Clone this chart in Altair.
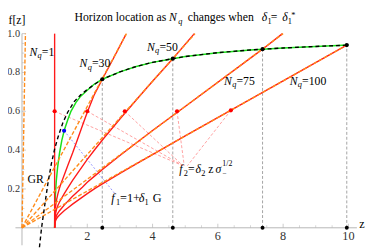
import altair as alt
import pandas as pd

# ---------------- data ----------------
GR_Z = [0.535, 0.6, 0.7, 0.8, 0.9, 1.0, 1.1, 1.25, 1.4, 1.6, 1.8, 2.0, 2.25, 2.46,
        3.0, 3.5, 4.0, 4.62, 5.0, 6.0, 7.0, 8.0, 9.0, 10.0]
GR_F = [-0.10, 0.0, 0.12, 0.235, 0.33, 0.405, 0.465, 0.54, 0.595, 0.65, 0.685, 0.712, 0.742, 0.765,
        0.803, 0.831, 0.852, 0.871, 0.882, 0.902, 0.916, 0.926, 0.934, 0.941]

F1_Z = [1.0, 1.005, 1.02, 1.05, 1.09, 1.15, 1.22, 1.3, 1.4, 1.5, 1.65, 1.8, 2.0, 2.2, 2.46,
        3.0, 3.5, 4.0, 4.62, 5.0, 6.0, 7.0, 8.0, 9.0, 10.0]
F1_F = [0.0, 0.08, 0.16, 0.24, 0.31, 0.385, 0.45, 0.505, 0.555, 0.6, 0.645, 0.678, 0.708, 0.738, 0.765,
        0.803, 0.831, 0.852, 0.871, 0.882, 0.902, 0.916, 0.926, 0.934, 0.941]

RED1_Z = [1.0, 1.0]
RED1_F = [0.0, 1.0]
RED30_Z = [1.0, 1.01, 1.03, 1.06, 1.1, 1.15, 1.2, 1.3, 1.4, 1.55, 1.7, 1.85, 2.0, 2.2, 2.46, 2.8, 3.18]
RED30_F = [0.0, 0.07, 0.11, 0.145, 0.175, 0.205, 0.23, 0.275, 0.32, 0.385, 0.455, 0.525, 0.595, 0.68, 0.765, 0.872, 0.995]
RED50_Z = [1.0, 1.01, 1.03, 1.06, 1.1, 1.15, 1.2, 1.3, 1.4, 1.55, 1.7, 1.85, 2.0, 2.25, 2.5, 3.0, 3.5, 4.0, 4.62, 5.28]
RED50_F = [0.0, 0.048, 0.074, 0.096, 0.115, 0.133, 0.148, 0.177, 0.204, 0.244, 0.28, 0.316, 0.352, 0.407, 0.46, 0.56, 0.658, 0.755, 0.871, 1.0]
RED75_Z = [1.0, 1.01, 1.03, 1.06, 1.1, 1.15, 1.2, 1.3, 1.4, 1.55, 1.7, 1.85, 2.0, 2.25, 2.5, 3.0, 3.5, 4.0, 5.0, 7.37, 7.98]
RED75_F = [0.0, 0.032, 0.049, 0.064, 0.076, 0.088, 0.098, 0.118, 0.136, 0.162, 0.186, 0.209, 0.234, 0.27, 0.305, 0.372, 0.437, 0.501, 0.625, 0.92, 1.0]
RED100_Z = [1.0, 1.01, 1.03, 1.06, 1.1, 1.15, 1.2, 1.3, 1.4, 1.55, 1.7, 1.85, 2.0, 2.25, 2.5, 3.0, 3.5, 4.0, 5.0, 9.95]
RED100_F = [0.0, 0.024, 0.037, 0.048, 0.057, 0.066, 0.074, 0.089, 0.102, 0.122, 0.14, 0.158, 0.176, 0.204, 0.23, 0.28, 0.329, 0.377, 0.4735, 0.941]

# orange dashed asymptotes (from the origin)
ORANGE_END_Z = [0.106, 3.2, 5.3, 8.0, 9.95]
ORANGE_END_F = [1.0, 1.0, 1.0, 1.0, 0.941]

# horizon points
DOT_Z = [2.46, 4.62, 7.37, 9.95]
DOT_F = [0.765, 0.871, 0.92, 0.941]

# red marker dots and their callout ends
RED_DOT_Z = [1.0, 2.0, 3.15, 4.75, 6.4]
RED_DOT_F = [0.6, 0.6, 0.6, 0.6, 0.605]
PTR_END_Z = [4.93, 4.93, 4.93, 4.97, 5.07]
PTR_END_F = [0.32, 0.32, 0.32, 0.32, 0.32]

BLUE_DOT_Z = [1.29]
BLUE_DOT_F = [0.50]
BLUE_END_Z = [2.85]
BLUE_END_F = [0.175]

# axes / ticks
X_AXIS_Z = [-0.2, 10.26]
Y_AXIS_F = [-0.09, 1.0]
X_TICKS = [2, 4, 6, 8, 10]
X_TICK_LABELS = ["2", "4", "6", "8", "10"]
Y_TICKS = [0.2, 0.4, 0.6, 0.8, 1.0]
Y_TICK_LABELS = ["0.2", "0.4", "0.6", "0.8", "1.0"]
X_MINOR = [0.5, 1.0, 1.5, 2.5, 3.0, 3.5, 4.5, 5.0, 5.5, 6.5, 7.0, 7.5, 8.5, 9.0, 9.5]
Y_MINOR = [0.05, 0.1, 0.15, 0.25, 0.3, 0.35, 0.45, 0.5, 0.55, 0.65, 0.7, 0.75, 0.85, 0.9, 0.95]

# label anchors
NQ_LABELS = ["=1", "=30", "=50", "=75", "=100"]
NQ_LABEL_Z = [0.227, 1.763, 3.83, 6.19, 8.2]
NQ_LABEL_F = [0.907, 0.846, 0.932, 0.756, 0.756]
GR_LABEL = ("GR", 0.17, 0.252)
F1_LABEL_AT = (2.736, 0.151)
F2_LABEL_AT = (4.82, 0.302)

# ---------------- styling ----------------
SERIF = "'Liberation Serif', 'Times New Roman', Times, serif"
XS = alt.Scale(domain=[-0.4285, 10.539], nice=False, zero=False)
YS = alt.Scale(domain=[-0.1008, 1.1184], nice=False, zero=False)
AXIS_GRAY = "#b5b5b5"
RED = "#ff1a1a"
ORANGE = "#ff8c1a"
GREEN = "#19e019"


def X(field):
    return alt.X(field, type="quantitative", scale=XS, axis=None)


def Y(field):
    return alt.Y(field, type="quantitative", scale=YS, axis=None)


def line_layer(zs, fs, **mark):
    df = pd.DataFrame({"z": zs, "f": fs, "o": list(range(len(zs)))})
    return alt.Chart(df).mark_line(**mark).encode(x=X("z"), y=Y("f"), order="o:Q")


def seg_layer(z0, f0, z1, f1, **mark):
    df = pd.DataFrame({"z0": z0, "f0": f0, "z1": z1, "f1": f1})
    return alt.Chart(df).mark_rule(**mark).encode(x=X("z0"), y=Y("f0"), x2="z1", y2="f1")


def pts_layer(zs, fs, **mark):
    df = pd.DataFrame({"z": zs, "f": fs})
    return alt.Chart(df).mark_circle(**mark).encode(x=X("z"), y=Y("f"))


def rich(z, f, pieces):
    out = []
    for text, dx, dy, fs, style in pieces:
        df = pd.DataFrame({"z": [z], "f": [f], "t": [text]})
        out.append(alt.Chart(df).mark_text(align="left", baseline="middle", dx=dx, dy=dy,
                                           font=SERIF, fontSize=fs, fontStyle=style,
                                           color="black")
                   .encode(x=X("z"), y=Y("f"), text="t:N"))
    return out


def px_text(text, x, y, size=12, style="normal"):
    df = pd.DataFrame({"t": [text]})
    return alt.Chart(df).mark_text(align="left", baseline="alphabetic", font=SERIF,
                                   fontSize=size, fontStyle=style, color="black").encode(
        x=alt.value(x), y=alt.value(y), text="t:N")


layers = []

# axes
layers.append(line_layer(X_AXIS_Z, [0, 0], color=AXIS_GRAY, strokeWidth=1))
layers.append(line_layer([0, 0], Y_AXIS_F, color=AXIS_GRAY, strokeWidth=1))
layers.append(alt.Chart(pd.DataFrame({"z": X_TICKS, "f": [0] * len(X_TICKS)}))
              .mark_tick(orient="vertical", size=4, thickness=1, yOffset=-2, color=AXIS_GRAY)
              .encode(x=X("z"), y=Y("f")))
layers.append(alt.Chart(pd.DataFrame({"z": X_MINOR, "f": [0] * len(X_MINOR)}))
              .mark_tick(orient="vertical", size=2.5, thickness=0.8, yOffset=-1.25, color=AXIS_GRAY)
              .encode(x=X("z"), y=Y("f")))
layers.append(alt.Chart(pd.DataFrame({"z": [0] * len(Y_TICKS), "f": Y_TICKS}))
              .mark_tick(orient="horizontal", size=4, thickness=1, xOffset=2, color=AXIS_GRAY)
              .encode(x=X("z"), y=Y("f")))
layers.append(alt.Chart(pd.DataFrame({"z": [0] * len(Y_MINOR), "f": Y_MINOR}))
              .mark_tick(orient="horizontal", size=2.5, thickness=0.8, xOffset=1.25, color=AXIS_GRAY)
              .encode(x=X("z"), y=Y("f")))
layers.append(alt.Chart(pd.DataFrame({"z": X_TICKS, "f": [0] * 5, "t": X_TICK_LABELS}))
              .mark_text(align="center", baseline="middle", dy=8, font=SERIF, fontSize=12.5, color="#333333")
              .encode(x=X("z"), y=Y("f"), text="t:N"))
layers.append(alt.Chart(pd.DataFrame({"z": [0] * 5, "f": Y_TICKS, "t": Y_TICK_LABELS}))
              .mark_text(align="right", baseline="middle", dx=-2, font=SERIF, fontSize=10.5, color="#333333")
              .encode(x=X("z"), y=Y("f"), text="t:N"))

# gray dashed drops from horizon points
layers.append(seg_layer(DOT_Z, [0] * 4, DOT_Z, DOT_F, color="#999999", strokeWidth=0.9, strokeDash=[3, 2]))

# callout pointers
layers.append(seg_layer(RED_DOT_Z, RED_DOT_F, PTR_END_Z, PTR_END_F,
                        color="#ff8888", strokeWidth=0.8, strokeDash=[3, 2]))
layers.append(seg_layer(BLUE_DOT_Z, BLUE_DOT_F, BLUE_END_Z, BLUE_END_F,
                        color="#7a7aff", strokeWidth=0.8, strokeDash=[2, 2]))

# f1 (green)
layers.append(line_layer(F1_Z, F1_F, color=GREEN, strokeWidth=1.5))

# f2 curves (red)
for zs, fs in [(RED1_Z, RED1_F), (RED30_Z, RED30_F), (RED50_Z, RED50_F),
               (RED75_Z, RED75_F), (RED100_Z, RED100_F)]:
    layers.append(line_layer(zs, fs, color=RED, strokeWidth=1.4))

# orange dashed asymptotes
layers.append(seg_layer([0] * 5, [0] * 5, ORANGE_END_Z, ORANGE_END_F,
                        color=ORANGE, strokeWidth=1.4, strokeDash=[4, 2]))

# GR (black dashed)
layers.append(line_layer(GR_Z, GR_F, color="black", strokeWidth=1.4, strokeDash=[4, 3]))

# dots
layers.append(pts_layer(DOT_Z, DOT_F, color="black", size=18, opacity=1))
layers.append(pts_layer(DOT_Z, [0] * 4, color="black", size=16, opacity=1))
layers.append(pts_layer(RED_DOT_Z, RED_DOT_F, color="#ff0000", size=18, opacity=1))
layers.append(pts_layer(BLUE_DOT_Z, BLUE_DOT_F, color="#0000ff", size=18, opacity=1))

# N_q labels
for lab, z, f in zip(NQ_LABELS, NQ_LABEL_Z, NQ_LABEL_F):
    layers += rich(z, f, [("N", 0, 0, 12, "italic"), ("q", 8.3, 3.5, 8.5, "italic"),
                          (lab, 12.7, 0, 12, "normal")])

# GR label
layers += rich(GR_LABEL[1], GR_LABEL[2], [(GR_LABEL[0], 0, 0, 12, "normal")])

# f1 label
layers += rich(F1_LABEL_AT[0], F1_LABEL_AT[1], [
    ("f", 0, 0, 12.5, "italic"), ("1", 4.8, 3.5, 8.5, "normal"),
    ("=1+", 9, 0, 12.5, "normal"), ("δ", 28, 0, 12.5, "italic"),
    ("1", 34, 3.5, 8.5, "normal"), ("G", 42.5, 0, 12.5, "normal")])

# f2 label
layers += rich(F2_LABEL_AT[0], F2_LABEL_AT[1], [
    ("f", 0, 0, 12, "italic"), ("2", 4.6, 3.5, 8.5, "normal"),
    ("=", 9, 0, 12, "normal"), ("δ", 16.5, 0, 12, "italic"),
    ("2", 22.5, 3.5, 8.5, "normal"), ("z", 29.5, 0, 12, "normal"),
    ("σ", 37, 0, 12, "italic"), ("−", 44, 5, 7.5, "normal"),
    ("1/2", 44, -5, 8, "normal")])

# axis names
layers += rich(10.33, 0.02, [("z", 0, 0, 12.5, "normal")])
layers += rich(-0.4135, 1.07, [("f[z]", 0, 0, 12, "normal")])

# title (pixel placed)
TY = 10.5
layers.append(px_text("Horizon location as", 68, TY))
layers.append(px_text("N", 164.5, TY, style="italic"))
layers.append(px_text("q", 174, TY + 3, size=8.5, style="italic"))
layers.append(px_text("changes when", 183.7, TY))
layers.append(px_text("δ", 259.3, TY, style="italic"))
layers.append(px_text("1", 265.3, TY + 3, size=8.5))
layers.append(px_text("=", 268.7, TY))
layers.append(px_text("δ", 280.3, TY, style="italic"))
layers.append(px_text("1", 286, TY + 3, size=8.5))
layers.append(px_text("*", 289.5, TY - 3, size=8.5))

chart = alt.layer(*layers).properties(
    width=366, height=242,
    autosize=alt.AutoSizeParams(type="none"),
    padding=0,
).configure_view(stroke=None)

chart.save("out.html", embed_options={"renderer": "svg", "actions": False})
